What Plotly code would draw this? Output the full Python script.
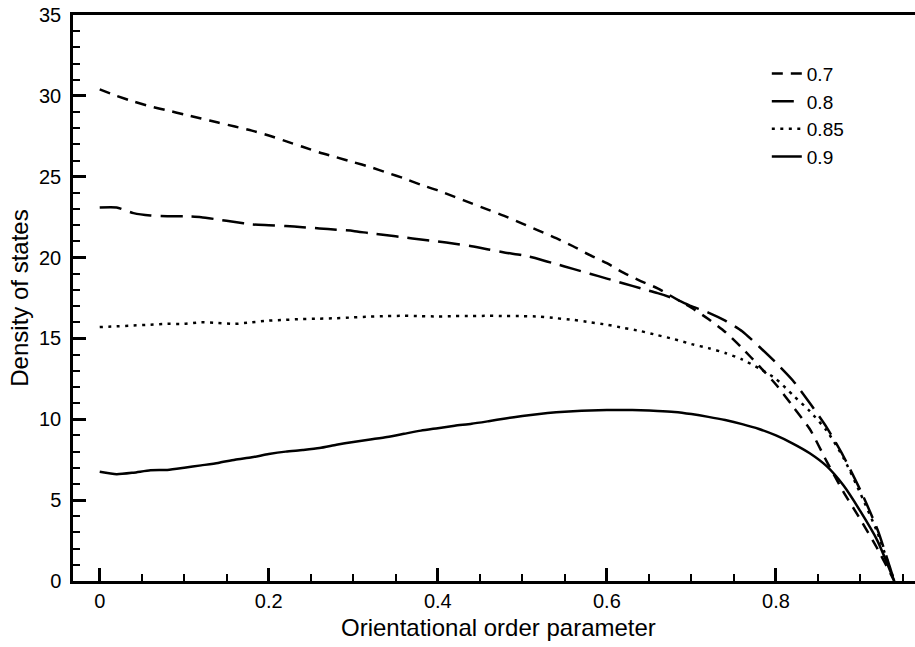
import plotly.graph_objects as go

x_vals = [0.00, 0.02, 0.04, 0.06, 0.08, 0.10, 0.12, 0.14, 0.16, 0.18,
          0.20, 0.22, 0.24, 0.26, 0.28, 0.30, 0.32, 0.34, 0.36, 0.38,
          0.40, 0.42, 0.44, 0.46, 0.48, 0.50, 0.52, 0.54, 0.56, 0.58,
          0.60, 0.62, 0.64, 0.66, 0.68, 0.70, 0.72, 0.74, 0.76, 0.78,
          0.80, 0.82, 0.84, 0.86, 0.88, 0.90, 0.92, 0.94]

y_07 = [30.4, 30.0, 29.65, 29.35, 29.1, 28.85, 28.6, 28.35, 28.1, 27.85,
        27.55, 27.2, 26.85, 26.5, 26.2, 25.9, 25.6, 25.25, 24.9, 24.5,
        24.15, 23.75, 23.35, 22.95, 22.55, 22.1, 21.65, 21.2, 20.7, 20.15,
        19.65, 19.05, 18.55, 18.1, 17.5, 16.9, 16.2, 15.4, 14.4, 13.3,
        12.15, 10.8, 9.4, 7.4, 5.5, 3.8, 2.0, 0.0]

y_08 = [23.1, 23.1, 22.75, 22.6, 22.55, 22.55, 22.5, 22.35, 22.2, 22.05,
        22.0, 21.95, 21.88, 21.8, 21.72, 21.65, 21.5, 21.38, 21.25, 21.12,
        21.0, 20.85, 20.7, 20.5, 20.3, 20.15, 19.9, 19.6, 19.3, 19.0,
        18.7, 18.4, 18.1, 17.8, 17.45, 17.0, 16.6, 16.1, 15.45, 14.5,
        13.5, 12.4, 11.0, 9.5, 7.7, 5.6, 3.2, 0.0]

y_085 = [15.7, 15.75, 15.8, 15.85, 15.9, 15.9, 16.0, 15.95, 15.9, 16.0,
         16.1, 16.15, 16.2, 16.22, 16.25, 16.3, 16.35, 16.38, 16.4, 16.38,
         16.36, 16.38, 16.38, 16.4, 16.38, 16.38, 16.35, 16.25, 16.15, 16.0,
         15.85, 15.65, 15.45, 15.2, 14.95, 14.65, 14.4, 14.1, 13.7, 13.15,
         12.5, 11.5, 10.5, 9.3, 7.6, 5.4, 3.0, 0.0]

y_09 = [6.75, 6.6, 6.7, 6.85, 6.87, 7.0, 7.15, 7.3, 7.5, 7.65,
        7.85, 8.0, 8.1, 8.22, 8.42, 8.6, 8.75, 8.9, 9.1, 9.3,
        9.45, 9.6, 9.72, 9.88, 10.05, 10.2, 10.33, 10.43, 10.5, 10.55,
        10.57, 10.58, 10.56, 10.52, 10.45, 10.32, 10.15, 9.95, 9.7, 9.4,
        9.0, 8.5, 7.9, 7.1, 5.9, 4.3, 2.5, 0.0]

series_names = ["0.7", "0.8", "0.85", "0.9"]
series_values = [y_07, y_08, y_085, y_09]
series_dash = ["11px,8px", "22px,9px", "3px,5.5px", "solid"]

x_title = "Orientational order parameter"
y_title = "Density of states"

fig = go.Figure()
for name, vals, dash in zip(series_names, series_values, series_dash):
    fig.add_trace(go.Scatter(
        x=x_vals, y=vals, mode="lines", name=name, legendgroup=name,
        line=dict(color="black", width=2.5, dash=dash, shape="spline", smoothing=0.6),
    ))

font_family = "Liberation Sans, Arial, Helvetica, sans-serif"

fig.update_layout(
    width=915, height=647,
    margin=dict(l=73, r=0, t=15, b=66),
    paper_bgcolor="white", plot_bgcolor="white",
    font=dict(family=font_family, color="black", size=20),
    showlegend=True,
    legend=dict(
        x=0.824, y=0.93, xanchor="left", yanchor="top",
        bgcolor="rgba(0,0,0,0)", borderwidth=0,
        font=dict(size=19, family=font_family),
        tracegroupgap=0,
    ),
    xaxis=dict(
        range=[-0.0316, 0.9645],
        showgrid=False, zeroline=False,
        showline=True, linecolor="black", linewidth=2.5, mirror=True,
        ticks="inside", ticklen=13, tickwidth=2.5, tickcolor="black",
        tickvals=[0, 0.2, 0.4, 0.6, 0.8],
        ticktext=["0", "0.2", "0.4", "0.6", "0.8"],
        ticklabelstandoff=0,
        minor=dict(ticks="inside", ticklen=7, tickwidth=1.5, tickcolor="black", dtick=0.05, tick0=0),
        tickfont=dict(size=20),
    ),
    yaxis=dict(
        range=[0, 35],
        showgrid=False, zeroline=False,
        showline=True, linecolor="black", linewidth=2.5,
        ticks="inside", ticklen=13, tickwidth=2.5, tickcolor="black",
        tick0=0, dtick=5,
        ticklabelstandoff=5,
        minor=dict(ticks="inside", ticklen=7, tickwidth=1.5, tickcolor="black", dtick=1, tick0=0),
        title=dict(text=y_title, font=dict(size=24, family=font_family), standoff=4),
        tickfont=dict(size=20),
    ),
    annotations=[dict(
        text=x_title, xref="paper", yref="paper", x=0.505, y=-0.082,
        xanchor="center", yanchor="middle", showarrow=False,
        font=dict(size=24, family=font_family, color="black"),
    )],
)

fig.write_html("out.html")
